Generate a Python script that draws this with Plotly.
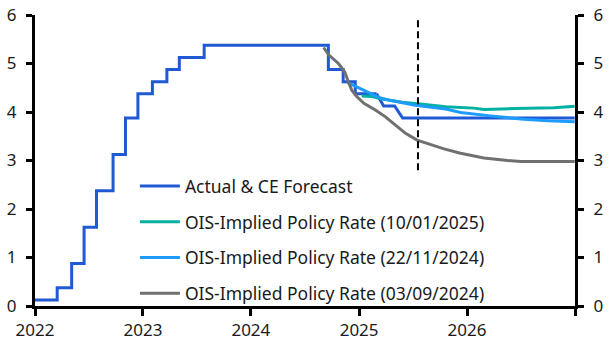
import plotly.graph_objects as go

# Actual policy rate (step changes)
hist_dates = ["2022-01-01", "2022-03-17", "2022-05-05", "2022-06-16", "2022-07-28",
              "2022-09-22", "2022-11-03", "2022-12-15", "2023-02-02", "2023-03-23",
              "2023-05-04", "2023-07-27", "2024-09-19", "2024-11-08", "2024-12-19",
              "2025-03-01"]
hist_rate = [0.125, 0.375, 0.875, 1.625, 2.375, 3.125, 3.875, 4.375, 4.625, 4.875,
             5.125, 5.375, 4.875, 4.625, 4.375, 4.375]

# CE forecast
fc_dates = ["2025-03-01", "2025-03-25", "2025-05-01", "2025-05-28", "2026-12-31"]
fc_rate = [4.375, 4.125, 4.125, 3.875, 3.875]

# OIS-implied 10/01/2025
ois_jan_dates = ["2025-01-10", "2025-02-14", "2025-03-20", "2025-05-27", "2025-08-03",
                 "2025-10-21", "2026-01-24", "2026-02-27", "2026-06-09", "2026-10-22",
                 "2026-12-31"]
ois_jan = [4.33, 4.32, 4.27, 4.20, 4.16, 4.11, 4.08, 4.05, 4.07, 4.09, 4.12]

# OIS-implied 22/11/2024
ois_nov_dates = ["2024-11-22", "2024-12-31", "2025-02-03", "2025-03-08", "2025-04-23",
                 "2025-07-10", "2025-10-21", "2025-12-10", "2026-03-21", "2026-07-12",
                 "2026-09-30", "2026-12-31"]
ois_nov = [4.61, 4.50, 4.41, 4.30, 4.23, 4.14, 4.06, 3.99, 3.92, 3.85, 3.82, 3.80]

# OIS-implied 03/09/2024
ois_sep_dates = ["2024-09-03", "2024-09-20", "2024-10-23", "2024-11-13", "2024-11-26",
                 "2024-12-07", "2024-12-24", "2025-01-17", "2025-02-25", "2025-03-31",
                 "2025-05-04", "2025-06-07", "2025-07-16", "2025-09-05", "2025-10-15",
                 "2025-12-10", "2026-02-27", "2026-05-18", "2026-07-01", "2026-12-31"]
ois_sep = [5.33, 5.18, 5.00, 4.83, 4.62, 4.45, 4.32, 4.18, 4.04, 3.90, 3.73, 3.56,
           3.42, 3.32, 3.24, 3.15, 3.05, 3.00, 2.98, 2.98]

forecast_start = "2025-07-19"
divider_range = [2.8, 5.9]

year_ticks = ["2022-01-01", "2023-01-01", "2024-01-01", "2025-01-01", "2026-01-01", "2027-01-01"]
year_labels = ["2022", "2023", "2024", "2025", "2026", ""]

c_blue = "#1f5ad4"
c_teal = "#00b0a0"
c_light = "#1e9bff"
c_gray = "#707070"
lw = 3

fig = go.Figure()
fig.add_trace(go.Scatter(x=hist_dates, y=hist_rate, mode="lines", line=dict(color=c_blue, width=lw, shape="hv"),
                         name="Actual & CE Forecast", legendgroup="a"))
fig.add_trace(go.Scatter(x=fc_dates, y=fc_rate, mode="lines", line=dict(color=c_blue, width=lw),
                         name="Actual & CE Forecast", legendgroup="a", showlegend=False))
fig.add_trace(go.Scatter(x=ois_jan_dates, y=ois_jan, mode="lines", line=dict(color=c_teal, width=lw),
                         name="OIS-Implied Policy Rate (10/01/2025)", legendgroup="b"))
fig.add_trace(go.Scatter(x=ois_nov_dates, y=ois_nov, mode="lines", line=dict(color=c_light, width=lw),
                         name="OIS-Implied Policy Rate (22/11/2024)", legendgroup="c"))
fig.add_trace(go.Scatter(x=ois_sep_dates, y=ois_sep, mode="lines", line=dict(color=c_gray, width=lw),
                         name="OIS-Implied Policy Rate (03/09/2024)", legendgroup="d"))
fig.add_trace(go.Scatter(x=[year_ticks[0]], y=[0], yaxis="y2", mode="lines", showlegend=False,
                         hoverinfo="skip", line=dict(width=0)))

fig.add_shape(type="line", x0=forecast_start, x1=forecast_start, y0=divider_range[0], y1=divider_range[1],
              xref="x", yref="y", line=dict(color="black", width=2, dash="7px,4px"))

font = dict(family="Noto Sans", size=17, color="#1a1a1a")
yax = dict(range=[0, 6], dtick=1, showgrid=False, zeroline=False, showline=True, linecolor="black",
           linewidth=3, ticks="outside", ticklen=6, tickwidth=3, tickcolor="black", tickfont=font,
           ticklabelstandoff=6, fixedrange=True, automargin=False)

fig.update_layout(
    width=609, height=345,
    margin=dict(l=35, r=34, t=15, b=39),
    paper_bgcolor="white", plot_bgcolor="white",
    font=font,
    showlegend=True,
    xaxis=dict(type="date", range=["2022-01-01", "2027-01-01"], tickvals=year_ticks, ticktext=year_labels,
               showgrid=False, zeroline=False, showline=True, linecolor="black", linewidth=3,
               ticks="outside", ticklen=7, tickwidth=3, tickcolor="black", tickfont=font,
               automargin=False),
    yaxis=dict(**yax, side="left"),
    yaxis2=dict(**yax, side="right", overlaying="y"),
    legend=dict(x=0.185, y=-0.018, xanchor="left", yanchor="bottom", bgcolor="rgba(0,0,0,0)",
                font=dict(family="Noto Sans", size=17.5, color="#1a1a1a"), itemwidth=40,
                traceorder="grouped", tracegroupgap=10),
)

fig.write_html("out.html")
